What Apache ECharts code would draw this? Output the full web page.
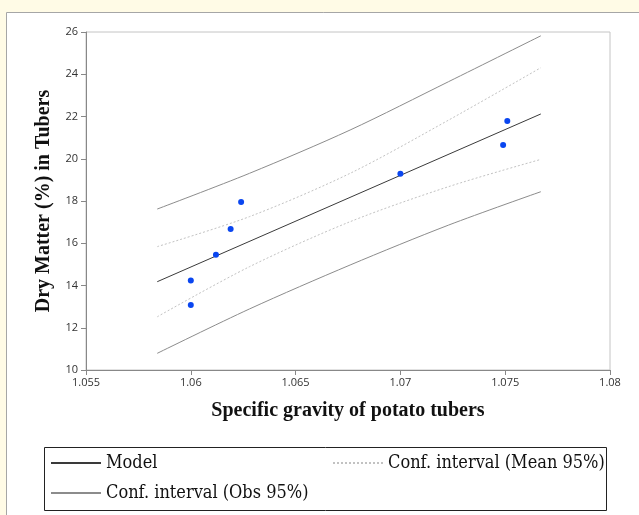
<!DOCTYPE html>
<html>
<head>
<meta charset="utf-8">
<script src="https://cdn.jsdelivr.net/npm/echarts@6/dist/echarts.min.js"></script>
<style>
html,body{margin:0;padding:0;background:#fffbe6;}
#chart{width:639px;height:515px;}
</style>
</head>
<body>
<div id="chart"></div>
<script>
// Observed data
const obsX = [1.06, 1.06, 1.0612, 1.0619, 1.0624, 1.07, 1.0751, 1.0749];
const obsY = [14.24, 13.08, 15.46, 16.67, 17.95, 19.29, 21.79, 20.65];

// Model (regression line)
const modelX = [1.0584, 1.0767];
const modelY = [14.18, 22.12];

// Confidence bands, read at these x positions
const bandX = [1.0584, 1.0628, 1.0676, 1.0723, 1.0767];
const meanUpper = [15.84, 17.26, 19.31, 21.83, 24.31];
const meanLower = [12.52, 14.89, 17.02, 18.68, 19.97];
const obsUpper = [17.62, 19.31, 21.36, 23.65, 25.82];
const obsLower = [10.79, 12.89, 14.97, 16.86, 18.44];

const xTitle = 'Specific gravity of potato tubers';
const yTitle = 'Dry Matter (%) in Tubers';
const nameModel = 'Model';
const nameMean = 'Conf. interval (Mean 95%)';
const nameObs = 'Conf. interval (Obs 95%)';

const zip = (xs, ys) => xs.map((x, i) => [x, ys[i]]);

const chart = echarts.init(document.getElementById('chart'), null, {renderer: 'canvas'});

const serif = '"Liberation Serif", "DejaVu Serif", serif';
const legendSerif = '"DejaVu Serif Condensed", "DejaVu Serif", serif';
const sans = '"Open Sans", "Liberation Sans", sans-serif';

const legendCommon = {
  orient: 'horizontal',
  itemWidth: 50,
  itemHeight: 10,
  itemGap: 0,
  padding: 0,
  itemStyle: {opacity: 0},
  textStyle: {fontFamily: legendSerif, fontSize: 18, color: '#111'},
  selectedMode: false
};

chart.setOption({
  animation: false,
  backgroundColor: '#fffbe6',
  graphic: [
    {type: 'rect', z: -10, shape: {x: 6.5, y: 12.5, width: 700, height: 600},
     style: {fill: '#ffffff', stroke: '#a6a6a6', lineWidth: 1}},
    {type: 'rect', z: -5, shape: {x: 44.5, y: 447.5, width: 562, height: 63},
     style: {fill: 'none', stroke: '#222', lineWidth: 1}}
  ],
  grid: {left: 86, right: 29, top: 32, bottom: 145, show: true, borderColor: '#c4c4c4', borderWidth: 1, backgroundColor: '#fff'},
  legend: [
    Object.assign({}, legendCommon, {data: [nameModel], left: 50, top: 454}),
    Object.assign({}, legendCommon, {data: [nameMean], left: 332, top: 454}),
    Object.assign({}, legendCommon, {data: [nameObs], left: 50, top: 484})
  ],
  xAxis: {
    type: 'value', min: 1.055, max: 1.08, interval: 0.005,
    name: xTitle, nameLocation: 'middle', nameGap: 31,
    nameTextStyle: {fontFamily: serif, fontSize: 20, fontWeight: 'bold', color: '#111'},
    axisLine: {show: true, lineStyle: {color: '#888', width: 1}},
    axisTick: {show: true, inside: false, length: 5, lineStyle: {color: '#888'}},
    axisLabel: {fontFamily: sans, fontSize: 11, color: '#333', margin: 7,
      formatter: v => parseFloat(v.toFixed(4)).toString()},
    splitLine: {show: false}
  },
  yAxis: {
    type: 'value', min: 10, max: 26, interval: 2,
    name: yTitle, nameLocation: 'middle', nameGap: 32,
    nameTextStyle: {fontFamily: serif, fontSize: 20, fontWeight: 'bold', color: '#111'},
    axisLine: {show: true, lineStyle: {color: '#888', width: 1}},
    axisTick: {show: true, inside: false, length: 5, lineStyle: {color: '#888'}},
    axisLabel: {fontFamily: sans, fontSize: 11, color: '#333', margin: 8},
    splitLine: {show: false}
  },
  series: [
    {name: nameObs, type: 'line', data: zip(bandX, obsUpper), symbol: 'none', smooth: 0.3,
     lineStyle: {color: '#8c8c8c', width: 1}, itemStyle: {color: '#8c8c8c'}},
    {name: nameObs, type: 'line', data: zip(bandX, obsLower), symbol: 'none', smooth: 0.3,
     lineStyle: {color: '#8c8c8c', width: 1}, itemStyle: {color: '#8c8c8c'}},
    {name: nameMean, type: 'line', data: zip(bandX, meanUpper), symbol: 'none', smooth: 0.3,
     lineStyle: {color: '#c2c2c2', width: 1, type: [2, 2]}, itemStyle: {color: '#c2c2c2'}},
    {name: nameMean, type: 'line', data: zip(bandX, meanLower), symbol: 'none', smooth: 0.3,
     lineStyle: {color: '#c2c2c2', width: 1, type: [2, 2]}, itemStyle: {color: '#c2c2c2'}},
    {name: nameModel, type: 'line', data: zip(modelX, modelY), symbol: 'none',
     lineStyle: {color: '#3a3a3a', width: 1}, itemStyle: {color: '#3a3a3a'}},
    {name: 'Observations', type: 'scatter', data: zip(obsX, obsY), symbolSize: 6,
     itemStyle: {color: '#0a46f0', opacity: 1}, z: 5}
  ]
});
</script>
</body>
</html>
